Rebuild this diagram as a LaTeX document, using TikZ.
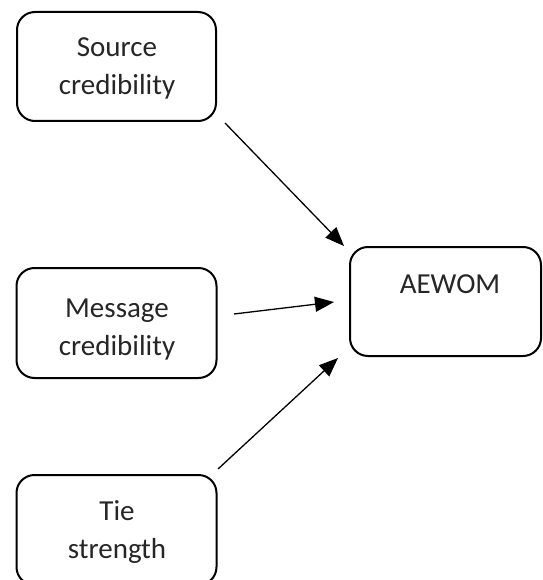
\documentclass[tikz,border=0pt]{standalone}
\usepackage{fontspec}
\setmainfont{Carlito}
\usetikzlibrary{arrows.meta}
\begin{document}
\begin{tikzpicture}[x=1pt,y=-1pt,
  box/.style={draw=black,line width=2pt,rounded corners=18pt,inner sep=0pt,outer sep=0pt},
  txt/.style={font=\fontsize{29}{38}\selectfont,align=center,anchor=base,inner sep=0pt,text=black!85},
  arr/.style={line width=1.3pt,-{Triangle[length=19pt,width=15pt]}}]
\useasboundingbox (0,0) rectangle (542,580);
\clip (0,0) rectangle (542,580);
\node[box,minimum width=199pt,minimum height=109pt] (src) at (116.5,66.5) {};
\node[box,minimum width=200pt,minimum height=110pt] (msg) at (116.5,323) {};
\node[box,minimum width=200pt,minimum height=110pt] (tie) at (116.5,530) {};
\node[box,minimum width=191pt,minimum height=109pt] (aew) at (445.5,301.5) {};
\node[txt] (srct) at (117,95) {Source\\credibility};
\node[txt] (msgt) at (117,355) {Message\\credibility};
\node[txt] (tiet) at (117,558) {Tie\\strength};
\node[txt] (aewt) at (450,293) {AEWOM};
\coordinate (s1) at (225,123);
\coordinate (e1) at (344,246);
\coordinate (s2) at (234,314);
\coordinate (e2) at (334,302);
\coordinate (s3) at (218,469);
\coordinate (e3) at (338,358);
\draw[arr] (s1) -- (e1);
\draw[arr] (s2) -- (e2);
\draw[arr] (s3) -- (e3);
\end{tikzpicture}
\end{document}
